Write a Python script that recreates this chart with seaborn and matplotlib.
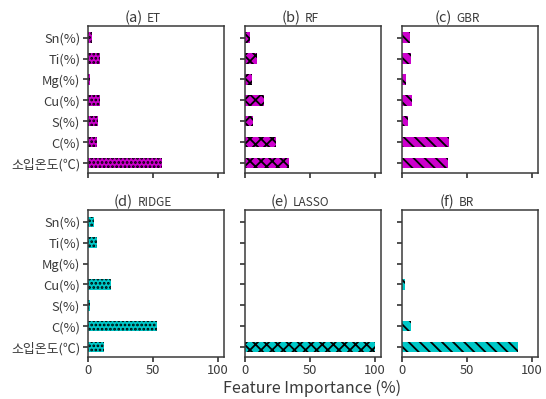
import matplotlib
matplotlib.use("Agg")
import matplotlib.pyplot as plt
import pandas as pd
import seaborn as sns
from matplotlib.offsetbox import AnchoredOffsetbox, HPacker, TextArea

FEATURES = ["Sn(%)", "Ti(%)", "Mg(%)", "Cu(%)", "S(%)", "C(%)", "소입온도(℃)"]

TAGS = ["(a)", "(b)", "(c)", "(d)", "(e)", "(f)"]
MODELS = ["ET", "RF", "GBR", "RIDGE", "LASSO", "BR"]

# feature importance (%), same order as FEATURES
ET = [3.3, 9.0, 1.8, 9.5, 8.0, 7.2, 57.0]
RF = [3.9, 9.3, 5.6, 14.5, 6.2, 24.2, 34.0]
GBR = [5.8, 6.5, 2.6, 7.8, 4.2, 36.2, 35.0]
RIDGE = [4.6, 7.0, 0.0, 17.5, 1.8, 53.4, 12.4]
LASSO = [0.0, 0.0, 0.0, 0.0, 0.0, 0.0, 100.0]
BR = [0.0, 0.0, 0.0, 2.0, 0.0, 6.8, 89.6]

VALUES = [ET, RF, GBR, RIDGE, LASSO, BR]
COLORS = ["#cc00cc"] * 3 + ["#00c8c8"] * 3
HATCHES = ["....", "xxx", "\\\\\\", "....", "xxx", "\\\\\\"]

INK = "#3a3a3a"


def style() -> None:
    sns.set_theme(style="ticks")
    plt.rcParams.update(
        {
            "font.family": ["Noto Sans CJK KR", "DejaVu Sans"],
            "axes.edgecolor": INK,
            "axes.linewidth": 1.1,
            "xtick.color": INK,
            "ytick.color": INK,
            "xtick.labelcolor": INK,
            "ytick.labelcolor": INK,
            "xtick.labelsize": 9.3,
            "ytick.labelsize": 9.3,
            "xtick.major.size": 3.5,
            "ytick.major.size": 3.5,
            "xtick.major.pad": 2,
            "ytick.major.pad": 2,
            "hatch.linewidth": 1.3,
        }
    )


def add_title(ax, tag: str, name: str) -> None:
    box = HPacker(
        children=[
            TextArea(tag, textprops={"size": 10.5, "color": INK}),
            TextArea(name, textprops={"size": 8.5, "color": INK}),
        ],
        align="baseline",
        pad=0,
        sep=3,
    )
    anchored = AnchoredOffsetbox(
        loc="lower center",
        child=box,
        pad=0,
        borderpad=0,
        frameon=False,
        bbox_to_anchor=(0.5 - 13 / 135, 1.005),
        bbox_transform=ax.transAxes,
    )
    ax.add_artist(anchored)


def main() -> None:
    style()
    fig, axes = plt.subplots(2, 3, figsize=(5.46, 3.99), dpi=100, sharex=True, sharey=True)
    fig.subplots_adjust(left=0.161, right=0.986, top=0.935, bottom=0.106, wspace=0.155, hspace=0.255)

    for ax, tag, name, vals, color, hatch in zip(
        axes.flat, TAGS, MODELS, VALUES, COLORS, HATCHES
    ):
        frame = pd.DataFrame({"feature": FEATURES, "importance": vals})
        sns.barplot(
            data=frame,
            x="importance",
            y="feature",
            order=FEATURES,
            orient="h",
            color=color,
            saturation=1,
            width=0.5,
            ax=ax,
        )
        for patch in ax.patches:
            patch.set_hatch(hatch)
            patch.set_edgecolor("black")
            patch.set_linewidth(0)
        ax.set_xlabel("")
        ax.set_ylabel("")
        add_title(ax, tag, name)

    for ax in axes.flat:
        ax.set_xlim(0, 105)
        ax.set_xticks([0, 50, 100])
        ax.set_ylim(6.46, -0.56)

    fig.text(0.571, 0.027, "Feature Importance (%)", ha="center", va="center",
             fontsize=11.5, color=INK)
    fig.savefig("out.png", dpi=100)
    plt.close(fig)


if __name__ == "__main__":
    main()
